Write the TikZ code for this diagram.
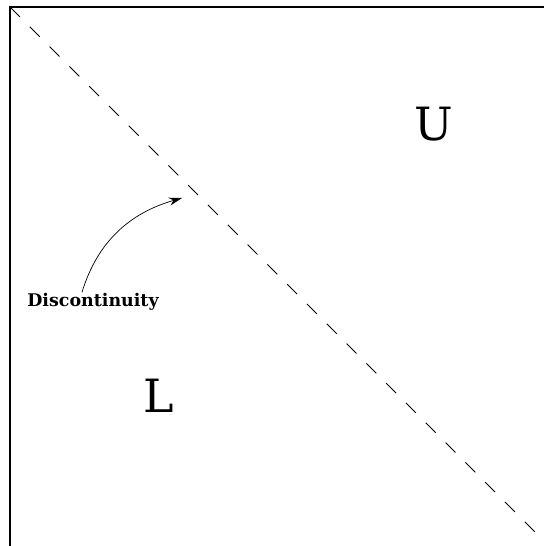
\documentclass[tikz,border=0pt]{standalone}
\usepackage{fontspec}
\setmainfont{DejaVu Serif}
\usetikzlibrary{arrows.meta}

\begin{document}
\begin{tikzpicture}[
    x=1bp, y=1bp,
    edge/.style={line width=2.4bp, line cap=rect},
    split/.style={line width=0.9bp, dash pattern=on 14bp off 14bp},
    region/.style={font=\fontsize{46}{46}\selectfont, inner sep=0pt},
    lbl/.style={font=\bfseries\fontsize{17.5}{17.5}\selectfont, inner sep=0pt},
    arr/.style={-{Stealth[length=13bp, width=8bp]}, line width=0.7bp}
]
\useasboundingbox (0,0) rectangle (544,546);

\coordinate (tl) at (10,539);
\coordinate (tr) at (544,539);
\coordinate (bl) at (10,0);
\coordinate (br) at (544,5);

\draw[edge] (tr) -- (tl) -- (bl);
\draw[split] (tl) -- (br);

\node[region] (up) at (434,422) {U};
\node[region] (lo) at (159,150) {L};

\node[lbl] (disc) at (93,244) {Discontinuity};
\coordinate (hit) at (182,348);
\draw[arr] ([xshift=-11bp, yshift=1bp]disc.north) to[out=73, in=196] (hit);
\end{tikzpicture}
\end{document}
